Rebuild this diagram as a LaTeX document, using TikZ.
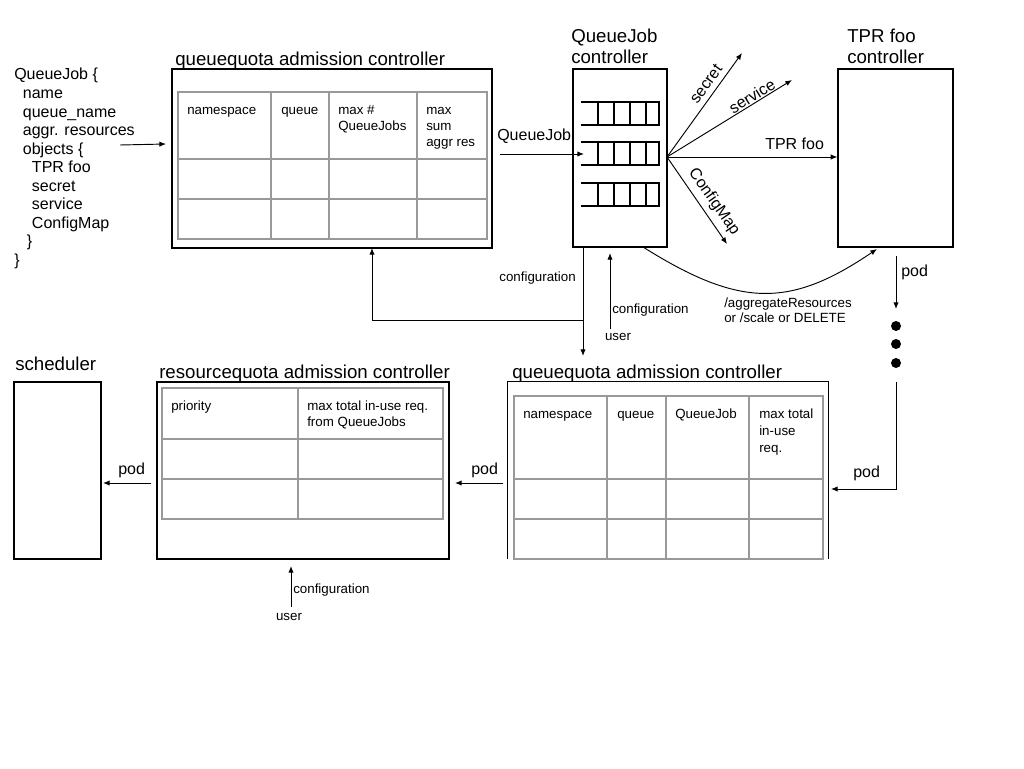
\documentclass[tikz,border=0pt]{standalone}
\usepackage{fontspec}
\setmainfont{Liberation Sans}
\usetikzlibrary{arrows.meta,fit}
\begin{document}
\begin{tikzpicture}[x=0.75pt,y=-0.75pt,
  box/.style={draw, line width=0.9pt, inner sep=0pt},
  frame/.style={inner sep=0pt},
  tbl/.style={draw=black!40, line width=0.8pt},
  ttl/.style={font=\fontsize{14}{15.75}\selectfont, anchor=base west, inner sep=0pt, align=left},
  cell/.style={font=\fontsize{10}{12}\selectfont, anchor=base west, inner sep=0pt, align=left},
  cellb/.style={font=\fontsize{10}{12.75}\selectfont, anchor=base west, inner sep=0pt, align=left},
  lbl/.style={font=\fontsize{12}{14}\selectfont, inner sep=0pt},
  sml/.style={font=\fontsize{10}{11.25}\selectfont, inner sep=0pt, align=left},
  arr/.style={-{Latex[length=5pt,width=4pt]}, line width=0.7pt},
  ln/.style={line width=0.7pt},
  qline/.style={line width=0.8pt},
  dot/.style={circle, fill=black, inner sep=0pt, minimum size=7.5pt}
]
\fill[white] (0,0) rectangle (1024,768);
\useasboundingbox (0,0) rectangle (1024,768);

% ---------- QueueJob spec (anchor = baseline of last line) ----------
\node[lbl, anchor=base west, align=left, font=\fontsize{12}{13.9}\selectfont] (qjspec) at (14,265.3)
 {QueueJob \{\\
  \hspace*{6.5pt}name\\
  \hspace*{6.5pt}queue\_name\\
  \hspace*{6.5pt}aggr. resources\\
  \hspace*{6.5pt}objects \{\\
  \hspace*{13.3pt}TPR foo\\
  \hspace*{13.3pt}secret\\
  \hspace*{13.3pt}service\\
  \hspace*{13.3pt}ConfigMap\\
  \hspace*{9.5pt}\}\\
  \}};

% ---------- top queuequota admission controller ----------
\node[box, fit={(172,69) (492,248)}] (qq1) {};
\node[ttl] (qq1t) at (175,65) {queuequota admission controller};
\draw[tbl] (178,92) rectangle (487,239);
\draw[tbl] (178,159) -- (487,159) (178,199) -- (487,199)
           (271,92) -- (271,239) (329,92) -- (329,239) (417,92) -- (417,239);
\node[cell] (c11) at (187,114) {namespace};
\node[cell] (c12) at (281,114) {queue};
\node[cell] (c13) at (338,130) {max \#\\QueueJobs};
\node[cell] (c14) at (426,146) {max\\sum\\aggr res};

\coordinate (specout) at (120,145);
\coordinate (qq1in) at (166,144);
\draw[arr] (specout) -- (qq1in);

% ---------- QueueJob controller ----------
\node[box, fit={(573,69) (667,247)}] (qjc) {};
\node[ttl] (qjct) at (571,63) {QueueJob\\controller};
\foreach \y in {102,142,183}{
  \draw[qline] (581,\y) -- (660,\y) (581,\y+23) -- (660,\y+23);
  \foreach \x in {598,614,630,646,659}{
    \draw[qline] (\x,\y) -- (\x,\y+23);
  }
}
\coordinate (qjin0) at (500,154);
\coordinate (qjin) at (584,154);
\draw[arr] (qjin0) -- (qjin);
\node[lbl, anchor=base west] (qjl) at (497,140) {QueueJob};

% ---------- TPR foo controller ----------
\node[box, fit={(838,69) (953,247)}] (tpr) {};
\node[ttl] (tprt) at (847,63) {TPR foo\\controller};

% fan
\coordinate (fan) at (667,157);
\coordinate (esecret) at (742,53);
\coordinate (eservice) at (792,80);
\coordinate (ecm) at (727,244);
\draw[arr] (fan) -- (esecret);
\draw[arr] (fan) -- (eservice);
\draw[arr] (fan) -- (fan -| tpr.west);
\draw[arr] (fan) -- (ecm);
\node[lbl, rotate=54] (lsecret) at (706,84) {secret};
\node[lbl, rotate=31.6] (lservice) at (752,96) {service};
\node[lbl, rotate=-55] (lcm) at (714,202) {ConfigMap};
\node[lbl, anchor=base west] (ltpr) at (765,149) {TPR foo};

% curve
\coordinate (cstart) at (643,247);
\coordinate (cend) at (877,249);
\draw[arr] (cstart) .. controls (740,308) and (790,308) .. (cend);
\node[sml, anchor=base west] (lagg) at (724,322) {/aggregateResources\\or /scale or DELETE};

% pod from TPR
\coordinate (pod1a) at (896,256);
\coordinate (pod1b) at (896,309);
\draw[arr] (pod1a) -- (pod1b);
\node[lbl, anchor=west] (lpod1) at (901,272) {pod};
\node[dot] (d1) at (896,326) {};
\node[dot] (d2) at (896,344) {};
\node[dot] (d3) at (896,363) {};

% ---------- bottom queuequota admission controller ----------
\node[frame, fit={(508,382) (828,559)}] (qq2) {};
\draw[line width=0.9pt] (qq2.south west) |- (qq2.north east) -- (qq2.south east);
\node[ttl] (qq2t) at (512,378) {queuequota admission controller};
\draw[tbl] (514,396) rectangle (823,559);
\draw[tbl] (514,479) -- (823,479) (514,519) -- (823,519)
           (607,396) -- (607,559) (666,396) -- (666,559) (749,396) -- (749,559);
\node[cellb] (c21) at (523,418) {namespace};
\node[cellb] (c22) at (617,418) {queue};
\node[cellb] (c23) at (675,418) {QueueJob};
\node[cellb] (c24) at (759,452) {max total\\in-use\\req.};

\coordinate (pod2a) at (896,382);
\coordinate (pod2c) at (831,489);
\draw[arr] (pod2a) |- (pod2c);
\node[lbl, anchor=west] (lpod2) at (853,473) {pod};

% configuration from QueueJob controller
\coordinate (cfg1) at (583,247);
\coordinate (cfg2) at (583,356);
\coordinate (cfgj) at (583,320);
\coordinate (cfg3) at (372,248);
\draw[arr] (cfg1) -- (cfg2);
\draw[arr] (cfgj) -| (cfg3);
\node[sml, anchor=east] (lcfg1) at (576,278) {configuration};

% user -> QueueJob controller
\coordinate (u1a) at (610,329);
\coordinate (u1b) at (610,253);
\draw[arr] (u1a) -- (u1b);
\node[sml, anchor=west] (lcfg2) at (612,310) {configuration};
\node[sml] (luser1) at (618,337) {user};

% ---------- resourcequota admission controller ----------
\node[box, fit={(157,382) (449,559)}] (rq) {};
\node[ttl] (rqt) at (159,378) {resourcequota admission controller};
\draw[tbl] (162,388) rectangle (443,519);
\draw[tbl] (162,439) -- (443,439) (162,479) -- (443,479) (298,388) -- (298,519);
\node[cell] (c31) at (171,410) {priority};
\node[cell] (c32) at (307,426) {max total in-use req.\\from QueueJobs};

\coordinate (pod3a) at (503,483);
\coordinate (pod3b) at (455,483);
\draw[arr] (pod3a) -- (pod3b);
\node[lbl, anchor=west] (lpod3) at (471,470) {pod};

\coordinate (u2a) at (291,607);
\coordinate (u2b) at (291,566);
\draw[arr] (u2a) -- (u2b);
\node[sml, anchor=west] (lcfg3) at (293,590) {configuration};
\node[sml] (luser2) at (289,617) {user};

% ---------- scheduler ----------
\node[box, fit={(14,382) (101,559)}] (sch) {};
\node[ttl] (scht) at (15,370) {scheduler};

\coordinate (pod4a) at (151,483);
\coordinate (pod4b) at (103,483);
\draw[arr] (pod4a) -- (pod4b);
\node[lbl, anchor=west] (lpod4) at (118,470) {pod};
\end{tikzpicture}
\end{document}
